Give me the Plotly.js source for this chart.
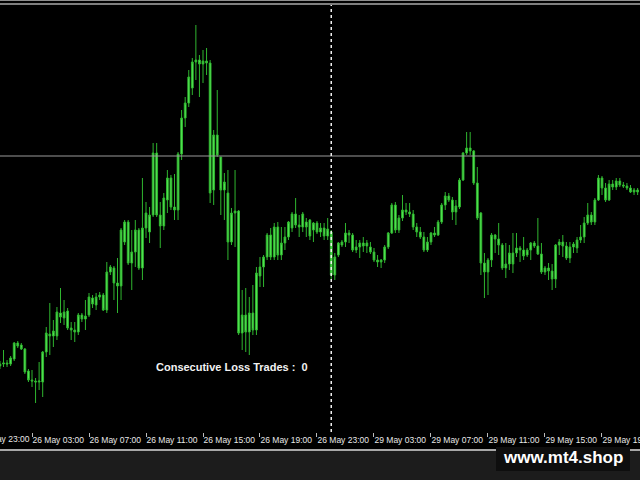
<!DOCTYPE html>
<html>
<head>
<meta charset="utf-8">
<script src="https://cdn.plot.ly/plotly-3.0.1.min.js"></script>
<style>html,body{margin:0;padding:0;background:#000;}#chart{width:640px;height:480px;}</style>
</head>
<body>
<div id="chart"></div>
<script>
// M15 sessions shown: [day label, first bar time, number of bars]
const sessions = [["26 May", "00:45", 93], ["29 May", "00:00", 87]];

const open = [
134,136,137,136,141,157,155,151,129,120,
119,118,118,148,166,164,164,187,182,189,
172,170,168,185,181,185,202,195,203,205,
190,228,232,217,214,258,278,237,248,270,
232,272,268,285,347,285,274,300,322,293,
290,346,382,397,412,438,440,436,439,437,
310,365,343,310,307,258,287,289,167,185,
168,187,170,224,233,243,265,243,273,245,
257,263,272,286,275,273,278,280,270,277,
268,272,264,268,225,245,255,258,267,265,
250,253,257,254,253,248,240,238,240,253,
267,295,270,282,290,288,286,273,268,263,
250,258,267,265,278,295,304,300,288,293,
320,347,352,349,317,287,237,228,240,265,
261,255,232,236,247,247,252,250,245,250,
257,254,246,228,232,229,221,255,258,254,
242,253,252,260,263,277,285,278,300,322,
312,300,316,313,319,315,314,312,308,310];

const high = [
139,150,140,144,158,159,157,152,131,130,
122,138,149,173,197,180,193,212,200,192,
178,178,187,187,200,207,205,207,208,207,
238,235,234,242,272,280,280,270,280,272,
322,298,293,357,357,298,307,330,325,326,
348,390,403,430,442,475,445,450,452,440,
370,410,343,327,330,292,330,290,210,212,
203,215,233,243,245,267,272,277,278,273,
273,279,288,302,285,288,282,281,278,279,
277,277,282,270,247,258,260,277,270,267,
260,260,263,260,258,252,245,241,255,268,
297,298,285,305,297,297,290,277,273,268,
263,268,273,280,297,308,307,303,300,322,
348,368,368,350,333,288,247,242,267,266,
277,257,257,255,267,267,254,263,252,258,
259,282,257,234,237,236,256,261,265,258,
258,258,263,275,283,297,288,302,325,324,
317,320,320,322,322,318,317,315,312,312];

const low = [
131,133,133,134,139,152,150,126,118,113,
97,110,103,143,145,153,160,177,175,170,
160,158,165,178,170,183,192,190,200,189,
187,225,200,187,200,255,235,210,233,230,
220,262,257,283,283,252,270,287,290,280,
280,340,373,393,405,420,403,417,425,297,
295,343,285,280,240,255,253,165,150,148,
145,165,165,213,213,240,240,240,240,240,
250,260,268,272,263,268,263,260,258,266,
263,260,260,220,220,243,253,253,257,248,
247,242,248,247,246,238,233,232,237,251,
266,267,267,279,285,283,270,263,261,248,
248,255,263,264,276,290,298,280,275,291,
319,345,345,315,280,225,202,205,233,247,
245,230,222,230,227,243,238,240,243,240,
252,245,226,225,220,210,212,245,243,240,
237,247,247,257,257,275,275,275,299,305,
298,299,310,310,313,312,310,307,305,305];

const close = [
136,137,136,142,157,154,151,128,120,119,
118,119,148,167,164,169,188,183,188,172,
170,168,185,181,184,203,196,203,205,190,
228,233,217,214,270,278,237,248,270,232,
272,287,285,347,285,274,302,322,293,290,
346,382,397,423,438,440,436,439,437,307,
365,345,310,318,258,287,289,167,185,168,
187,170,227,233,243,265,243,273,245,257,
263,278,286,275,273,286,273,264,277,268,
272,264,271,225,243,257,258,267,265,250,
253,257,254,257,248,240,238,240,253,267,
295,270,282,290,288,286,273,268,263,250,
258,267,265,278,295,304,300,288,294,320,
347,352,349,317,282,237,228,240,265,261,
255,232,236,247,236,252,250,244,250,257,
254,246,228,232,229,221,255,258,254,242,
253,256,260,263,277,285,278,300,322,312,
300,316,313,319,315,314,312,308,310,308];

const tickLabels = ["26 May 03:00","26 May 07:00","26 May 11:00","26 May 15:00","26 May 19:00","26 May 23:00",
                    "29 May 03:00","29 May 07:00","29 May 11:00","29 May 15:00","29 May 19:00"];
const leftCutLabel = "25 May 23:00";
const infoText = "Consecutive Loss Trades :&nbsp;&nbsp;0";
const levelPrice = 344;
const separatorBar = "29 May 00:00";
const watermark = "www.mt4.shop";

function pad(n){return (n<10?"0":"")+n;}
const times = [];
sessions.forEach(function(s){
  const p = s[1].split(":");
  let m = (+p[0])*60 + (+p[1]);
  for (let k=0;k<s[2];k++){ times.push(s[0]+" "+pad(Math.floor(m/60))+":"+pad(m%60)); m+=15; }
});

const green = {line:{color:'#2fb52f', width:1}, fillcolor:'#5cf05c'};
const trace = {
  type:'candlestick', x:times, open:open, high:high, low:low, close:close,
  increasing:green, decreasing:green, whiskerwidth:0, hoverinfo:'skip'
};

const py = function(Y){ return (432 - Y)/427; }; // pixel row -> paper y
const px = function(X){ return X/640; };
const tickFont = {family:'Liberation Sans, Arial, sans-serif', size:8.5, color:'#e8e8e8'};

const layout = {
  width:640, height:480,
  paper_bgcolor:'#000', plot_bgcolor:'#000',
  margin:{l:0, r:0, t:5, b:48},
  showlegend:false,
  xaxis:{type:'category', range:[0.018, 179.67], rangeslider:{visible:false},
         showgrid:false, zeroline:false, showline:false,
         tickmode:'array', tickvals:tickLabels, ticktext:tickLabels,
         ticks:'outside', ticklen:4, tickcolor:'#bbbbbb', tickwidth:1,
         tickangle:0, ticklabelposition:'outside right',
         tickfont:tickFont, automargin:false},
  yaxis:{range:[68, 495], visible:false, showgrid:false, zeroline:false, automargin:false},
  shapes:[
    {type:'line', xref:'paper', yref:'y', x0:0, x1:1, y0:levelPrice, y1:levelPrice, line:{color:'#9a9a9a', width:1}},
    {type:'line', xref:'x', yref:'paper', x0:separatorBar, x1:separatorBar, y0:0, y1:1, line:{color:'#f0f0f0', width:1.5, dash:'dot'}},
    {type:'line', xref:'paper', yref:'paper', x0:0, x1:1, y0:py(0.5), y1:py(0.5), line:{color:'#8c8c8c', width:1}},
    {type:'line', xref:'paper', yref:'paper', x0:0, x1:1, y0:py(4), y1:py(4), line:{color:'#a8a8a8', width:1.5}},
    {type:'rect', xref:'paper', yref:'paper', x0:0, x1:1, y0:py(451), y1:py(481), fillcolor:'#1c1c1c', line:{width:0}, layer:'above'},
    {type:'line', xref:'paper', yref:'paper', x0:0, x1:1, y0:py(450), y1:py(450), line:{color:'#e0e0e0', width:1.5}, layer:'above'},
    {type:'rect', xref:'paper', yref:'paper', x0:px(496), x1:px(630), y0:py(447), y1:py(471), fillcolor:'#0e0e0e', line:{width:0}, layer:'above'}
  ],
  annotations:[
    {xref:'paper', yref:'paper', x:px(-24), y:py(439.5), xanchor:'left', yanchor:'middle', showarrow:false,
     text:leftCutLabel, font:tickFont},
    {xref:'paper', yref:'paper', x:px(154), y:py(367), xanchor:'left', yanchor:'middle', showarrow:false,
     text:'<b>'+infoText+'</b>', font:{family:'Liberation Sans, Arial, sans-serif', size:11, color:'#f2f2f2'}},
    {xref:'paper', yref:'paper', x:px(563), y:py(457), xanchor:'center', yanchor:'middle', showarrow:false,
     text:'<b>'+watermark+'</b>', font:{family:'Liberation Sans, Arial, sans-serif', size:17, color:'#ffffff'}}
  ]
};

Plotly.newPlot('chart', [trace], layout, {staticPlot:true, displayModeBar:false});
</script>
</body>
</html>
